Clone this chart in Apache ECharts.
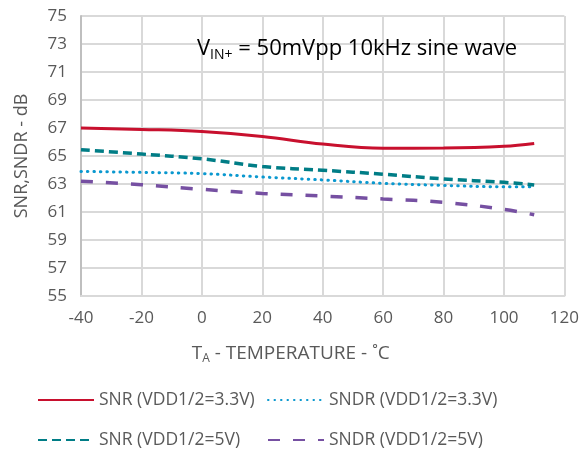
<!DOCTYPE html>
<html>
<head>
<meta charset="utf-8">
<script src="https://cdn.jsdelivr.net/npm/echarts@6/dist/echarts.min.js"></script>
<style>
  html, body { margin: 0; padding: 0; background: #fff; }
  #chart { width: 582px; height: 450px; }
</style>
</head>
<body>
<div id="chart"></div>
<script>
// temperature points, degC
const temps = [-40, -20, 0, 20, 40, 60, 80, 100, 110];
// series values, dB
const snr33 = [67.0, 66.9, 66.75, 66.4, 65.85, 65.55, 65.57, 65.7, 65.9];
const sndr33 = [63.9, 63.83, 63.74, 63.5, 63.29, 63.05, 62.9, 62.8, 62.8];
const snr5 = [65.45, 65.14, 64.8, 64.25, 63.98, 63.7, 63.36, 63.12, 62.93];
const sndr5 = [63.2, 62.95, 62.62, 62.33, 62.14, 61.93, 61.69, 61.19, 60.8];
const seriesNames = ['SNR (VDD1/2=3.3V)', 'SNDR (VDD1/2=3.3V)', 'SNR (VDD1/2=5V)', 'SNDR (VDD1/2=5V)'];

const font = 'Open Sans';
const textColor = '#595959';

const pairs = arr => temps.map((t, i) => [t, arr[i]]);

const myChart = echarts.init(document.getElementById('chart'));

const legendAt = (name, left, top) => ({
  data: [name],
  left: left,
  top: top,
  itemWidth: 56,
  itemHeight: 14,
  itemGap: 6,
  itemStyle: { opacity: 0 },
  textStyle: { fontFamily: font, fontSize: 17.5, color: textColor },
  selectedMode: false
});

const option = {
  animation: false,
  backgroundColor: '#fff',
  title: {
    text: '{a|V}{sub|IN+}{a| = 50mVpp 10kHz sine wave}',
    left: 192,
    top: 31,
    textStyle: {
      fontWeight: 'normal',
      rich: {
        a: { fontFamily: font, fontSize: 22, fontWeight: 'normal', color: '#000' },
        sub: { fontFamily: font, fontSize: 14, fontWeight: 'normal', color: '#000', padding: [12, 0, 0, 0] }
      }
    }
  },
  legend: [
    legendAt(seriesNames[0], 32, 386),
    legendAt(seriesNames[1], 262, 386),
    legendAt(seriesNames[2], 32, 426),
    legendAt(seriesNames[3], 262, 426)
  ],
  grid: {
    left: 81,
    right: 17,
    top: 16,
    bottom: 154
  },
  xAxis: {
    type: 'value',
    min: -40,
    max: 120,
    interval: 20,
    name: '{a|T}{sub|A}{a| - TEMPERATURE - ˚C}',
    nameLocation: 'middle',
    nameGap: 46,
    nameTextStyle: {
      padding: [0, 64, 0, 0],
      rich: {
        a: { fontFamily: font, fontSize: 19, color: textColor },
        sub: { fontFamily: font, fontSize: 12, color: textColor, padding: [11, 0, 0, 0] }
      }
    },
    axisLine: { show: true, onZero: false, lineStyle: { color: '#d9d9d9', width: 2 } },
    axisTick: { show: false },
    axisLabel: { fontFamily: font, fontSize: 17, color: textColor, margin: 14 },
    splitLine: { show: true, lineStyle: { color: '#d9d9d9', width: 2 } }
  },
  yAxis: {
    type: 'value',
    min: 55,
    max: 75,
    interval: 2,
    name: 'SNR,SNDR - dB',
    nameLocation: 'middle',
    nameGap: 50,
    nameTextStyle: { fontFamily: font, fontSize: 18, color: textColor },
    axisLine: { show: true, onZero: false, lineStyle: { color: '#bfbfbf', width: 2 } },
    axisTick: { show: false },
    axisLabel: { fontFamily: font, fontSize: 17, color: textColor, margin: 14 },
    splitLine: { show: true, lineStyle: { color: '#d9d9d9', width: 2 } }
  },
  series: [
    {
      name: seriesNames[0],
      type: 'line',
      smooth: 0.4,
      showSymbol: false,
      symbol: 'none',
      data: pairs(snr33),
      itemStyle: { color: '#c8102e' },
      lineStyle: { color: '#c8102e', width: 3 }
    },
    {
      name: seriesNames[1],
      type: 'line',
      smooth: 0.4,
      showSymbol: false,
      symbol: 'none',
      data: pairs(sndr33),
      itemStyle: { color: '#0a98cf' },
      lineStyle: { color: '#0a98cf', width: 3, type: [0.5, 6], cap: 'round' }
    },
    {
      name: seriesNames[2],
      type: 'line',
      smooth: 0.4,
      showSymbol: false,
      symbol: 'none',
      data: pairs(snr5),
      itemStyle: { color: '#007d86' },
      lineStyle: { color: '#007d86', width: 3.5, type: [9, 5] }
    },
    {
      name: seriesNames[3],
      type: 'line',
      smooth: 0.4,
      showSymbol: false,
      symbol: 'none',
      data: pairs(sndr5),
      itemStyle: { color: '#7650a2' },
      lineStyle: { color: '#7650a2', width: 3.5, type: [12, 13] }
    }
  ]
};

myChart.setOption(option);
</script>
</body>
</html>
